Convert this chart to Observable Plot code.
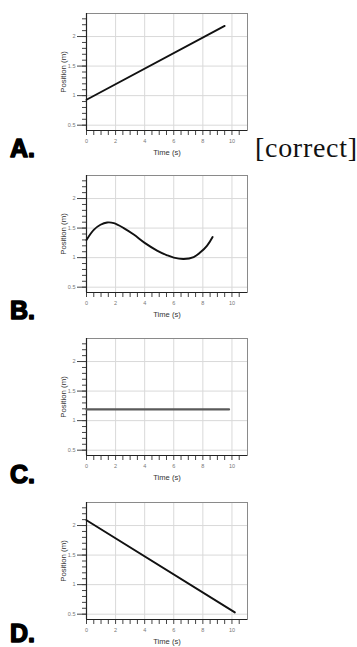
<!DOCTYPE html>
<html><head><meta charset="utf-8">
<script src="https://cdn.jsdelivr.net/npm/d3@7"></script>
<script src="https://cdn.jsdelivr.net/npm/@observablehq/plot@0.6"></script>
<style>
html,body{margin:0;padding:0;background:#fff;}
#root{position:relative;width:357px;height:647px;overflow:hidden;background:#fff;}
.panel{position:absolute;left:0;}
#overlay{position:absolute;left:0;top:0;}
</style></head><body><div id="root"></div>
<script>
// ---- data ----
const optionLetters = ["A.", "B.", "C.", "D."];
const correctTag = "[correct]";
const xTickLabels = [0, 2, 4, 6, 8, 10];
const yTickLabels = [0.5, 1, 1.5, 2];
const xLabel = "Time (s)";
const yLabel = "Position (m)";

const timeA = [0, 9.5];
const posA = [0.93, 2.18];
const timeB = [0, 0.5, 0.96, 1.42, 1.88, 2.56, 3.25, 4, 4.85, 5.54, 6, 6.68, 7.37, 7.83, 8.28, 8.67];
const posB = [1.30, 1.47, 1.556, 1.595, 1.584, 1.50, 1.39, 1.25, 1.12, 1.04, 1.0, 0.977, 1.01, 1.09, 1.20, 1.35];
const timeC = [0, 9.8];
const posC = [1.19, 1.19];
const timeD = [0, 10.2];
const posD = [2.09, 0.53];

const xMinor = d3.range(0, 22).map(i => i * 0.5);
const yMinor = d3.range(5, 24).map(i => i / 10);

// ---- layout ----
const frameTops = [12.7, 175.3, 338.3, 501.7];
const letterBaselines = [157, 318.5, 482.5, 641.5];
const series = [
  {time: timeA, pos: posA, stroke: "#111", sw: 1.9},
  {time: timeB, pos: posB, stroke: "#111", sw: 1.9},
  {time: timeC, pos: posC, stroke: "#5a5a5a", sw: 2.2},
  {time: timeD, pos: posD, stroke: "#111", sw: 1.9}
];

function panel(time, pos, stroke, sw) {
  const data = time.map((t, i) => ({t, p: pos[i]}));
  return Plot.plot({
    width: 357, height: 160,
    marginLeft: 86, marginRight: 110, marginTop: 10, marginBottom: 33,
    x: {domain: [0, 11.07]},
    y: {domain: [0.41, 2.39]},
    style: {fontFamily: "'Liberation Sans', Arial, sans-serif", background: "transparent", overflow: "visible"},
    marks: [
      Plot.gridX(xTickLabels, {stroke: "#d9d9d9", strokeOpacity: 1}),
      Plot.gridY(yTickLabels, {stroke: "#d9d9d9", strokeOpacity: 1}),
      Plot.frame({stroke: "#8a8a8a"}),
      Plot.axisY(yMinor, {anchor: "left", tickSize: 4, text: null, label: null, stroke: "#444"}),
      Plot.axisY(yTickLabels, {anchor: "left", tickSize: 9, text: null, label: null, stroke: "#444"}),
      Plot.axisY(yTickLabels, {anchor: "left", tickSize: 0, tickPadding: 11, label: null, fill: "#777", fontSize: 5.5, tickFormat: d => String(d)}),
      Plot.axisX(xMinor, {anchor: "bottom", tickSize: 5, text: null, label: null, stroke: "#444"}),
      Plot.axisX(xTickLabels, {anchor: "bottom", tickSize: 0, tickPadding: 9, label: null, fill: "#777", fontSize: 5.5, tickFormat: d => String(d)}),
      Plot.ruleX([0], {stroke: "#222", strokeWidth: 1.2}),
      Plot.ruleY([0.41], {stroke: "#222", strokeWidth: 1.2}),
      Plot.text([yLabel], {text: d => d, frameAnchor: "left", dx: -23.3, rotate: -90, textAnchor: "middle", lineAnchor: "middle", fontSize: 7.8, fill: "#333"}),
      Plot.text([xLabel], {text: d => d, frameAnchor: "bottom", dy: 22.4, textAnchor: "middle", lineAnchor: "middle", fontSize: 7.6, fill: "#333"}),
      Plot.line(data, {x: "t", y: "p", stroke, strokeWidth: sw, curve: "catmull-rom"})
    ]
  });
}

const root = document.getElementById("root");
series.forEach((s, i) => {
  const div = document.createElement("div");
  div.className = "panel";
  div.style.top = (frameTops[i] - 10) + "px";
  div.appendChild(panel(s.time, s.pos, s.stroke, s.sw));
  root.appendChild(div);
});

// letters and tag as real text
const ov = d3.select(root).append("svg").attr("id", "overlay")
  .attr("width", 357).attr("height", 647);
optionLetters.forEach((l, i) => {
  ov.append("text").attr("x", 10).attr("y", letterBaselines[i])
    .attr("font-family", "'Liberation Sans', Arial, sans-serif")
    .attr("font-weight", "bold").attr("font-size", 25)
    .attr("fill", "#000").attr("stroke", "#000").attr("stroke-width", 1.5)
    .attr("stroke-linejoin", "round")
    .text(l);
});
ov.append("text").attr("x", 255).attr("y", 157)
  .attr("font-family", "'Liberation Serif', 'Times New Roman', serif")
  .attr("font-size", 28).attr("letter-spacing", 0.7).attr("fill", "#111")
  .text(correctTag);
</script></body></html>
